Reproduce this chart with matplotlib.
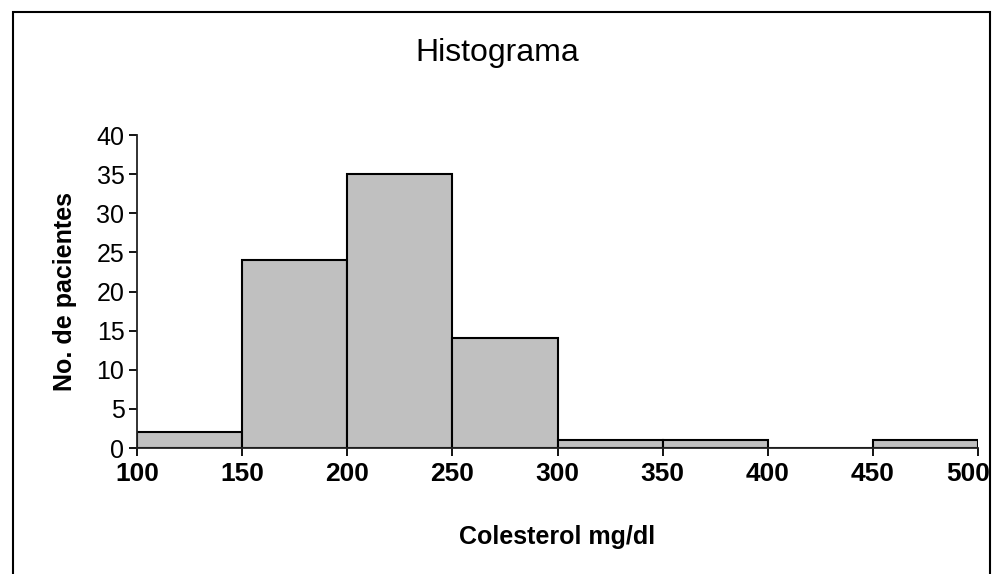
'''histograma de colesterol'''

import matplotlib.pyplot as plt
import matplotlib.transforms as mtransforms
from matplotlib.patches import Rectangle

bin_edges = [100, 150, 200, 250, 300, 350, 400, 450, 500]
counts = [2, 24, 35, 14, 1, 1, 0, 1]
y_ticks = [0, 5, 10, 15, 20, 25, 30, 35, 40]

plt.rcParams['font.family'] = ['Liberation Sans', 'DejaVu Sans']

fig = plt.figure(figsize=(9.94, 5.74), dpi=100)
ax = fig.add_axes([0.1378, 0.2195, 0.984 - 0.1378, 0.7648 - 0.2195])

widths = [bin_edges[i + 1] - bin_edges[i] for i in range(len(counts))]
ax.bar(bin_edges[:-1], counts, width=widths, align='edge',
       color='#c0c0c0', edgecolor='black', linewidth=1.5)

ax.set_xlim(bin_edges[0], bin_edges[-1])
ax.set_ylim(0, 40)
ax.set_xticks(bin_edges)
ax.set_yticks(y_ticks)
ax.tick_params(axis='x', labelsize=19, length=6, width=1.3, pad=4)
ax.tick_params(axis='y', labelsize=18, length=6, width=1.3, pad=3)
xlabels = ax.get_xticklabels()
for lbl in xlabels:
    lbl.set_fontweight('bold')
# last label pulled in so it stays inside the frame
last = xlabels[-1]
last.set_horizontalalignment('right')
last.set_transform(last.get_transform() +
                   mtransforms.ScaledTranslation(0.12, 0, fig.dpi_scale_trans))

for side in ['top', 'right']:
    ax.spines[side].set_visible(False)
for side in ['left', 'bottom']:
    ax.spines[side].set_linewidth(1.3)
    ax.spines[side].set_color('#222222')

ax.set_xlabel('Colesterol mg/dl', fontsize=18, fontweight='bold', labelpad=28)
ax.set_ylabel('No. de pacientes', fontsize=18, fontweight='bold', labelpad=14)
fig.text(0.5, 1 - 53 / 574, 'Histograma', fontsize=23, ha='center', va='center')

# outer frame (open at the bottom)
frame = Rectangle((13 / 994, -0.05), (990 - 13) / 994, 1.05 - 12 / 574,
                  transform=fig.transFigure, fill=False, edgecolor='black',
                  linewidth=1.5, clip_on=False)
fig.patches.append(frame)

fig.savefig('out.png', dpi=100)
